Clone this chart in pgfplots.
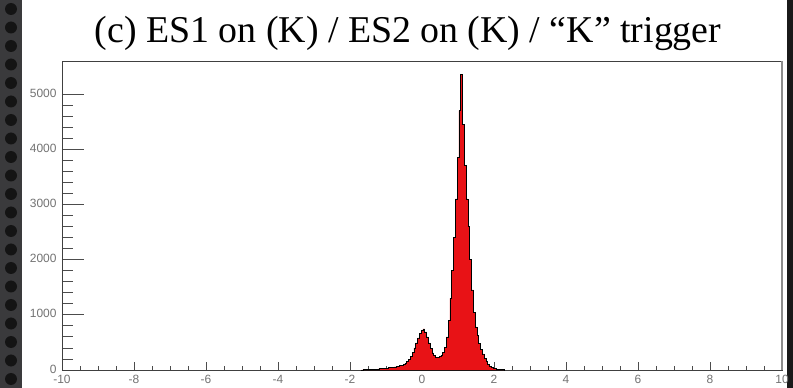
\documentclass[border=0pt]{standalone}
\usepackage{fontspec}
\setmainfont{Liberation Serif}
\newfontfamily\ticksf{Liberation Sans}
\usepackage{pgfplots}
\pgfplotsset{compat=1.18}
\definecolor{histred}{RGB}{232,18,22}
\definecolor{stripgray}{RGB}{58,58,60}
\begin{document}
\begin{tikzpicture}
\useasboundingbox (0bp,0bp) rectangle (793bp,388bp);
\fill[white] (0bp,0bp) rectangle (793bp,388bp);
\fill[stripgray] (0bp,0bp) rectangle (22bp,388bp);
\foreach \k in {0,...,21} {\fill[black!92] (11bp,{(379-\k*18.5)*1bp}) circle (6bp);}
\fill[black!90] (787bp,0bp) rectangle (793bp,388bp);
\node[font=\fontsize{38}{38}\selectfont, anchor=base, inner sep=0pt] at (408bp,345bp) {(c) ES1 on (K) / ES2 on (K) / “K” trigger};
\begin{axis}[
  at={(62bp,18bp)}, anchor=south west,
  width=720bp, height=309bp, scale only axis,
  xmin=-10, xmax=10, ymin=0, ymax=5600,
  xtick={-10,-8,...,10}, minor x tick num=3,
  ytick={0,1000,...,5000}, minor y tick num=4,
  tick align=inside,
  x tick style={/pgfplots/major tick length=8bp,/pgfplots/minor tick length=4bp, black!70, line width=0.8bp},
  y tick style={/pgfplots/major tick length=22bp,/pgfplots/minor tick length=11bp, black!70, line width=0.8bp},
  xtick pos=bottom, ytick pos=left,
  axis line style={black!75, line width=0.9bp},
  /pgf/number format/assume math mode=true,
  /pgf/number format/1000 sep={},
  ticklabel style={font=\ticksf\fontsize{12}{12}\selectfont, text=black!55},
  yticklabel style={xshift=-2bp, yshift=1bp},
  xticklabel style={yshift=-1.5bp},
  clip=false,
]
\addplot[fill=histred, draw=black, line width=0.7bp, const plot mark mid] table {
x y
-1.70 0
-1.65 2
-1.60 3
-1.55 4
-1.50 5
-1.45 7
-1.40 9
-1.35 12
-1.30 14
-1.25 17
-1.20 20
-1.15 22
-1.10 25
-1.05 28
-1.00 31
-0.95 35
-0.90 40
-0.85 45
-0.80 50
-0.75 55
-0.70 62
-0.65 68
-0.60 78
-0.55 88
-0.50 102
-0.45 125
-0.40 155
-0.35 195
-0.30 250
-0.25 320
-0.20 400
-0.15 490
-0.10 580
-0.05 660
0.00 720
0.05 745
0.10 690
0.15 600
0.20 490
0.25 390
0.30 310
0.35 260
0.40 235
0.45 228
0.50 240
0.55 270
0.60 320
0.65 410
0.70 600
0.75 900
0.80 1300
0.85 1800
0.90 2400
0.95 3100
1.00 3850
1.05 4700
1.10 5350
1.15 4450
1.20 3700
1.25 3100
1.30 2600
1.35 2000
1.40 1450
1.45 1050
1.50 780
1.55 620
1.60 480
1.65 380
1.70 290
1.75 210
1.80 150
1.85 105
1.90 72
1.95 50
2.00 35
2.05 22
2.10 14
2.15 8
2.20 5
2.25 3
2.30 0
} \closedcycle;
\draw[black!45, line width=2bp] (rel axis cs:1,0) -- (rel axis cs:1,1);
\end{axis}
\end{tikzpicture}
\end{document}
